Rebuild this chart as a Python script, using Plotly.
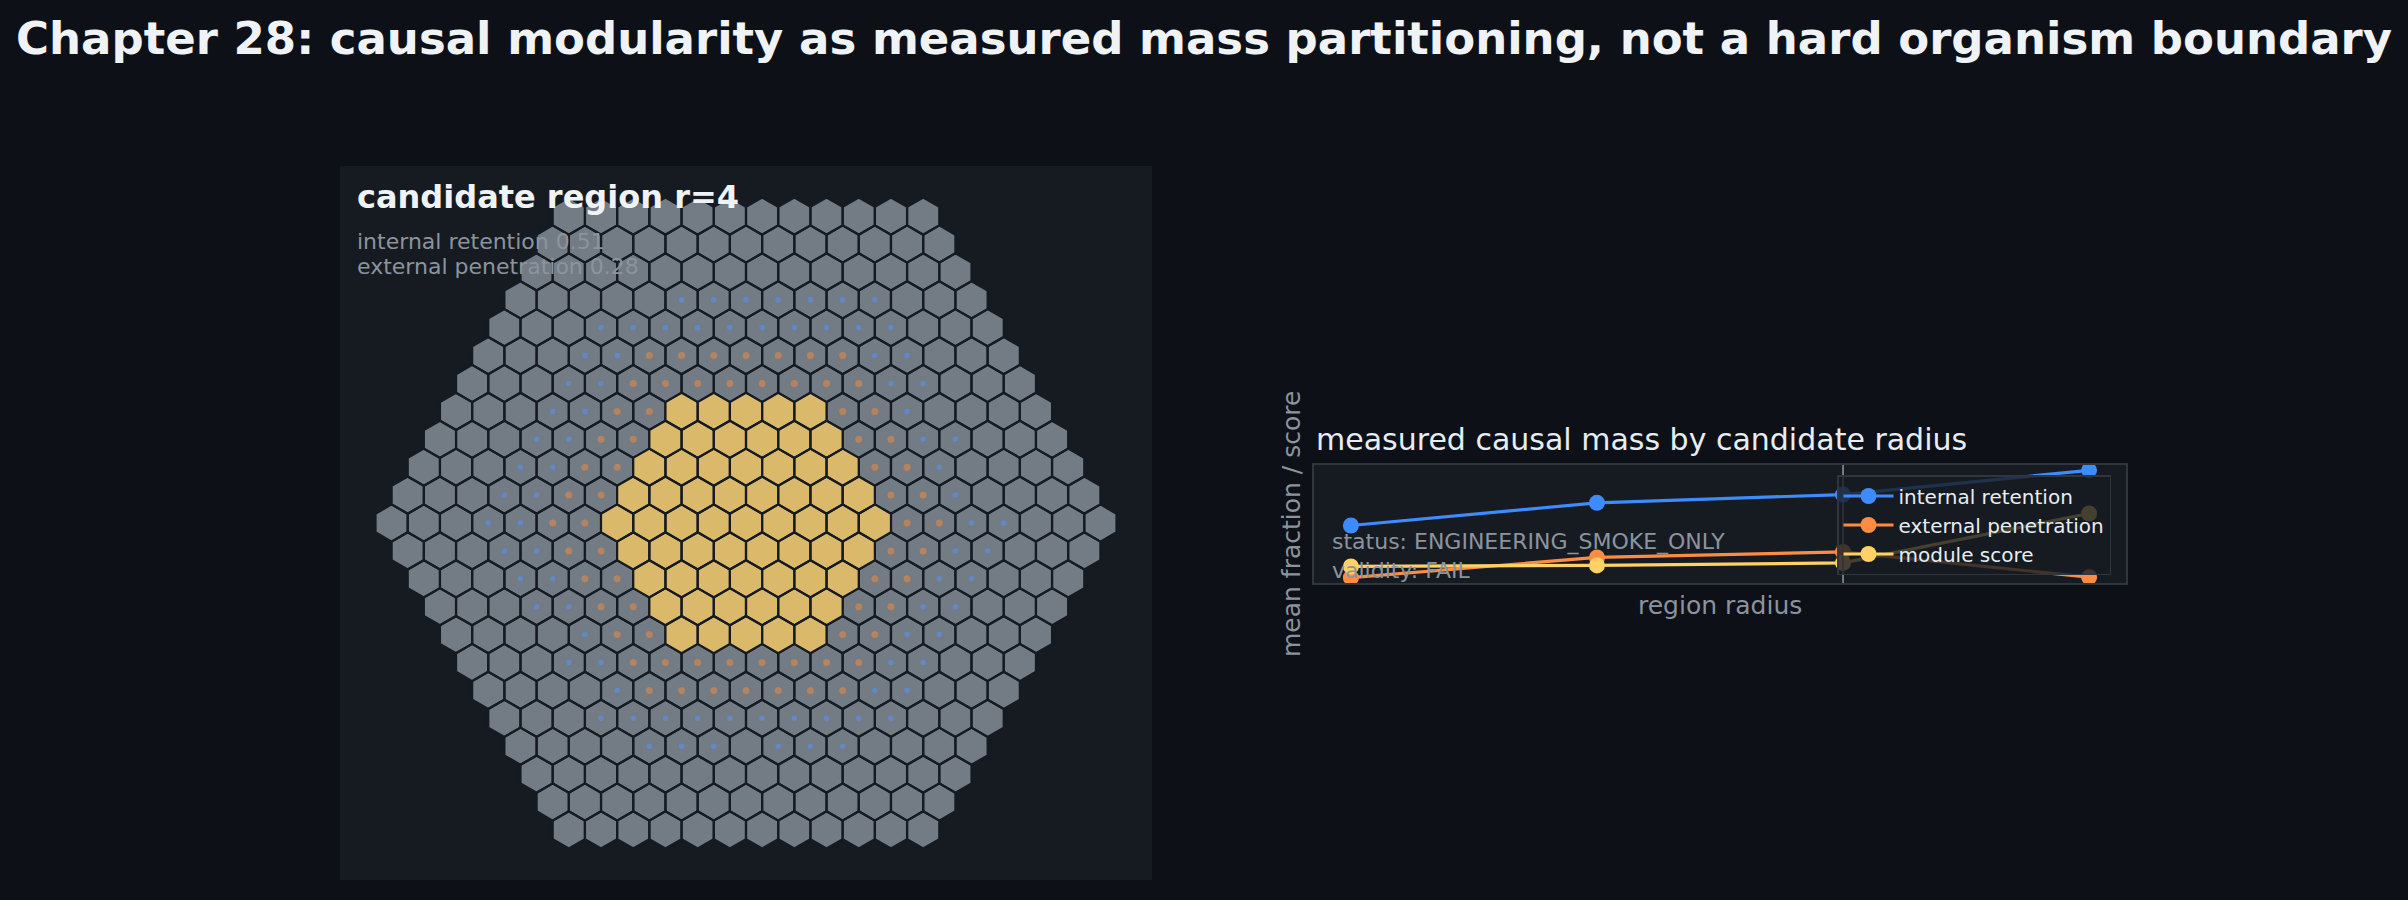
import math
import plotly.graph_objects as go

# values
RADIUS = [2, 3, 4, 5]
INTERNAL_RETENTION = [0.386, 0.477, 0.51, 0.607]
EXTERNAL_PENETRATION = [0.177, 0.258, 0.28, 0.179]
MODULE_SCORE = [0.222, 0.226, 0.236, 0.434]
CANDIDATE_R = 4

# hex lattice (axial coords q, r; r grows downwards)
GRID_RADIUS = 11
PENETRATION_RINGS = [5, 6]          # orange dots
PROBE_RINGS = [7, 8]                # blue dots
PROBE_GAPS = [(0, -8), (1, -8), (8, -4), (8, -2), (8, -1),
              (-8, 4), (-8, 6), (-8, 8), (-4, 8), (0, 8)]

SUMMARY = ["internal retention 0.51", "external penetration 0.28"]
STATUS = ["status: ENGINEERING_SMOKE_ONLY", "validity: FAIL"]

BG = "#0d1117"
PANEL = "#161b22"
BORDER = "#30363d"
TEXT = "#e6edf3"
MUTED = "#8b949e"
FONT = "DejaVu Sans"
W, H = 2408, 900


def hex_dist(q, r):
    return max(abs(q), abs(r), abs(q + r))


def hex_center(q, r):
    return math.sqrt(3) * (q + r / 2), -1.5 * r


def hex_outline(cells):
    xs, ys = [], []
    for q, r in cells:
        cx, cy = hex_center(q, r)
        for k in range(7):
            a = math.radians(90 + 60 * (k % 6))
            xs.append(cx + math.cos(a))
            ys.append(cy + math.sin(a))
        xs.append(None)
        ys.append(None)
    return xs, ys


cells = [(q, r) for r in range(-GRID_RADIUS, GRID_RADIUS + 1)
         for q in range(-GRID_RADIUS, GRID_RADIUS + 1)
         if hex_dist(q, r) <= GRID_RADIUS]
inside = [c for c in cells if hex_dist(*c) <= CANDIDATE_R]
outside = [c for c in cells if hex_dist(*c) > CANDIDATE_R]
pen_cells = [c for c in cells if hex_dist(*c) in PENETRATION_RINGS]
probe_cells = [c for c in cells if hex_dist(*c) in PROBE_RINGS and c not in PROBE_GAPS]

fig = go.Figure()

for group, color in [(outside, "#737b85"), (inside, "#dbb96a")]:
    xs, ys = hex_outline(group)
    fig.add_trace(go.Scatter(
        x=xs, y=ys, mode="lines", fill="toself", fillcolor=color,
        line=dict(color="#161b22", width=2.2),
        hoverinfo="skip", showlegend=False, xaxis="x", yaxis="y"))

for group, color, size in [(pen_cells, "#b5835f", 7), (probe_cells, "#6389c4", 5.5)]:
    pts = [hex_center(q, r) for q, r in group]
    fig.add_trace(go.Scatter(
        x=[p[0] for p in pts], y=[p[1] for p in pts], mode="markers",
        marker=dict(color=color, size=size, line=dict(width=0)),
        hoverinfo="skip", showlegend=False, xaxis="x", yaxis="y"))

series = [
    ("internal retention", INTERNAL_RETENTION, "#3d8bfd"),
    ("external penetration", EXTERNAL_PENETRATION, "#ff8c42"),
    ("module score", MODULE_SCORE, "#ffd166"),
]
for name, vals, color in series:
    fig.add_trace(go.Scatter(
        x=RADIUS, y=vals, name=name, mode="lines+markers",
        line=dict(color=color, width=3.2),
        marker=dict(color=color, size=16),
        xaxis="x2", yaxis="y2"))

fig.add_shape(type="line", xref="x2", yref="y2 domain", x0=CANDIDATE_R, x1=CANDIDATE_R,
              y0=0, y1=1, line=dict(color=MUTED, width=2), opacity=0.8, layer="above")

# left panel geometry (pixels) -> hex size of 18.6 px
px_size = 18.6
lx0, lx1, ly0, ly1 = 340, 1152, 166, 880
half_w = (lx1 - lx0) / 2 / px_size
half_h = (ly1 - ly0) / 2 / px_size

# right panel geometry (pixels)
rx0, rx1, ry0, ry1 = 1314, 2126, 465, 583

hidden = dict(visible=False, showgrid=False, zeroline=False, fixedrange=True)
fig.update_layout(
    width=W, height=H, autosize=False,
    margin=dict(l=0, r=0, t=0, b=0),
    paper_bgcolor=BG, plot_bgcolor=PANEL,
    font=dict(family=FONT, color=TEXT),
    xaxis=dict(domain=[lx0 / W, lx1 / W], range=[-half_w, half_w], **hidden),
    yaxis=dict(domain=[1 - ly1 / H, 1 - ly0 / H], range=[-half_h, half_h], **hidden),
    xaxis2=dict(domain=[rx0 / W, rx1 / W], range=[1.85, 5.15], showticklabels=False,
                ticks="", showgrid=False, zeroline=False, showline=True, mirror=True,
                linecolor=BORDER, linewidth=1.5, anchor="y2"),
    yaxis2=dict(domain=[1 - ry1 / H, 1 - ry0 / H], range=[0.1555, 0.6285],
                showticklabels=False, ticks="", showgrid=False, zeroline=False,
                showline=True, mirror=True, linecolor=BORDER, linewidth=1.5, anchor="x2"),
    legend=dict(x=1837 / W, y=1 - 475 / H, xanchor="left", yanchor="top",
                bgcolor="rgba(22,27,34,0.8)", bordercolor=BORDER, borderwidth=1.5,
                itemwidth=50,
                font=dict(family=FONT, size=20, color=TEXT)),
    showlegend=True,
)


def note(text, x, y, size, color, **kw):
    fig.add_annotation(text=text, x=x / W, y=1 - y / H, xref="paper", yref="paper",
                       showarrow=False, font=dict(family=FONT, size=size, color=color),
                       yanchor="middle", **kw)


note("<b>Chapter 28: causal modularity as measured mass partitioning, not a hard organism boundary</b>",
     W / 2, 38, 45, "#f0f3f6", xanchor="center")
note("<b>candidate region r=4</b>", 355, 197, 32, "#f0f3f6", xanchor="left")
for i, line in enumerate(SUMMARY):
    note(line, 355, 241 + 26 * i, 22, MUTED, xanchor="left")

note("measured causal mass by candidate radius", rx0, 439, 30, TEXT, xanchor="left")
note("region radius", (rx0 + rx1) / 2, 605, 25, MUTED, xanchor="center")
note("mean fraction / score", 1291, (ry0 + ry1) / 2, 25, MUTED, xanchor="center", textangle=-90)
for i, line in enumerate(STATUS):
    note(line, 1330, 542 + 28 * i, 22, MUTED, xanchor="left")

# page body has an 8px default margin; drop it so the figure sits at the page origin
fig.write_html("out.html", config={"displayModeBar": False},
               post_script="document.body.style.margin='0';"
                           "document.body.style.background='" + BG + "';")
